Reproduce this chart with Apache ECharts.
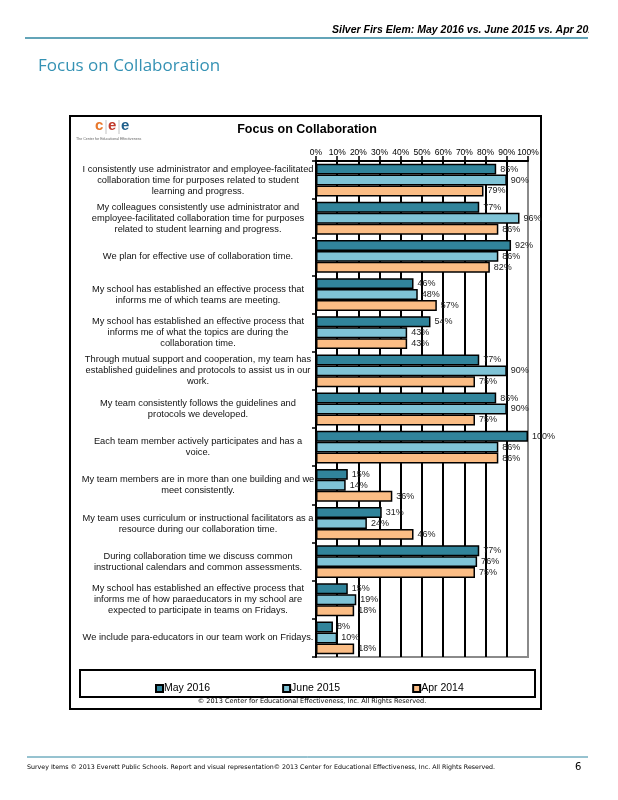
<!DOCTYPE html>
<html>
<head>
<meta charset="utf-8">
<script src="https://cdn.jsdelivr.net/npm/echarts@6/dist/echarts.min.js"></script>
<style>
html,body{margin:0;padding:0;background:#fff;}
#c{width:618px;height:800px;}
</style>
</head>
<body>
<div id="c"></div>
<script>
const categories = [
  "I consistently use administrator and employee-facilitated\ncollaboration time for purposes related to student\nlearning and progress.",
  "My colleagues consistently use administrator and\nemployee-facilitated collaboration time for purposes\nrelated to student learning and progress.",
  "We plan for effective use of collaboration time.",
  "My school has established an effective process that\ninforms me of which teams are meeting.",
  "My school has established an effective process that\ninforms me of what the topics are during the\ncollaboration time.",
  "Through mutual support and cooperation, my team has\nestablished guidelines and protocols to assist us in our\nwork.",
  "My team consistently follows the guidelines and\nprotocols we developed.",
  "Each team member actively participates and has a\nvoice.",
  "My team members are in more than one building and we\nmeet consistently.",
  "My team uses curriculum or instructional facilitators as a\nresource during our collaboration time.",
  "During collaboration time we discuss common\ninstructional calendars and common assessments.",
  "My school has established an effective process that\ninforms me of how paraeducators in my school are\nexpected to participate in teams on Fridays.",
  "We include para-educators in our team work on Fridays."
];
const seriesNames = ["May 2016", "June 2015", "Apr 2014"];
const may2016  = [85, 77, 92, 46, 54, 77, 85, 100, 15, 31, 77, 15, 8];
const june2015 = [90, 96, 86, 48, 43, 90, 90, 86, 14, 24, 76, 19, 10];
const apr2014  = [79, 86, 82, 57, 43, 75, 75, 86, 36, 46, 75, 18, 18];
const xTicks = [0, 100, 10];

const colors = ["#31849b", "#7fc3d6", "#fbbd85"];
const chart = echarts.init(document.getElementById('c'), null, {renderer: 'canvas'});

function mkSeries(name, data, color) {
  return {
    name: name, type: 'bar', data: data,
    barGap: '0%', barCategoryGap: '14%',
    itemStyle: {color: color, borderColor: '#000', borderWidth: 1.5},
    label: {show: true, position: 'right', distance: 4, formatter: '{c}%',
      fontFamily: 'Liberation Sans, Arial', fontSize: 9, color: '#222'}
  };
}

const splitColors = [];
for (let i = 0; i < 10; i++) splitColors.push('#000');
splitColors.push('#8a8a8a');

chart.setOption({
  backgroundColor: '#fff',
  animation: false,
  grid: {left: 316, top: 161, width: 212, height: 496, show: true,
    borderColor: '#8a8a8a', borderWidth: 2, backgroundColor: 'transparent'},
  xAxis: {
    type: 'value', position: 'top', min: xTicks[0], max: xTicks[1], interval: xTicks[2],
    axisLine: {show: true, lineStyle: {color: '#000', width: 2}},
    axisTick: {show: true, length: 5, lineStyle: {color: '#000', width: 1.5}},
    axisLabel: {formatter: '{value}%', fontFamily: 'Liberation Sans, Arial', fontSize: 8.5, color: '#000', margin: 4},
    splitLine: {show: true, lineStyle: {color: splitColors, width: 2}}
  },
  yAxis: {
    type: 'category', inverse: true, data: categories,
    axisLine: {show: true, lineStyle: {color: '#000', width: 2}},
    axisTick: {show: true, length: 4, lineStyle: {color: '#000', width: 1.5}},
    axisLabel: {
      margin: 3, align: 'right',
      formatter: function (v) { return v.split('\n').map(l => '{a|' + l + '}').join('\n'); },
      rich: {a: {width: 230, align: 'center', fontFamily: 'Liberation Sans, Arial', fontSize: 9.3, lineHeight: 11, color: '#111'}}
    }
  },
  legend: {
    data: seriesNames, left: 150, top: 678, icon: 'rect', itemWidth: 7, itemHeight: 7, itemGap: 72,
    textStyle: {fontFamily: 'Liberation Sans, Arial', fontSize: 10.5, color: '#000', padding: [0, 0, 0, -4]}
  },
  series: [
    mkSeries(seriesNames[0], may2016, colors[0]),
    mkSeries(seriesNames[1], june2015, colors[1]),
    mkSeries(seriesNames[2], apr2014, colors[2])
  ],
  graphic: [
    {type: 'text', left: 332, top: 25, z: 1, style: {text: 'Silver Firs Elem: May 2016 vs. June 2015 vs. Apr 2014',
      font: 'italic bold 10.5px "Liberation Sans", Arial', fill: '#000'}},
    {type: 'rect', shape: {x: 589, y: 18, width: 29, height: 18}, z: 5, style: {fill: '#fff'}},
    {type: 'line', shape: {x1: 25, y1: 38, x2: 588, y2: 38}, style: {stroke: '#2f86a1', lineWidth: 1.5}},
    {type: 'text', left: 38, top: 58, style: {text: 'Focus on Collaboration', font: '17px "Open Sans"', fill: '#3592b4'}},
    {type: 'rect', shape: {x: 70, y: 116, width: 471, height: 593}, style: {fill: 'none', stroke: '#000', lineWidth: 2}},
    {type: 'text', left: 95, top: 118, style: {text: 'c', font: 'bold 15px "Liberation Sans", Arial', fill: '#e8782c'}},
    {type: 'text', left: 108, top: 118, style: {text: 'e', font: 'bold 15px "Liberation Sans", Arial', fill: '#c0392b'}},
    {type: 'text', left: 121, top: 118, style: {text: 'e', font: 'bold 15px "Liberation Sans", Arial', fill: '#1f5f8b'}},
    {type: 'line', shape: {x1: 106, y1: 120, x2: 106, y2: 134}, style: {stroke: '#aaa', lineWidth: 0.7}},
    {type: 'line', shape: {x1: 119, y1: 120, x2: 119, y2: 134}, style: {stroke: '#aaa', lineWidth: 0.7}},
    {type: 'text', left: 76, top: 137, style: {text: 'The Center for Educational Effectiveness', font: '3.6px "Liberation Sans", Arial', fill: '#666'}},
    {type: 'text', x: 307, y: 130, style: {text: 'Focus on Collaboration', font: 'bold 12.5px "Liberation Sans", Arial', fill: '#000', textAlign: 'center', textVerticalAlign: 'middle'}},
    {type: 'rect', shape: {x: 80, y: 670, width: 455, height: 27}, style: {fill: 'none', stroke: '#000', lineWidth: 2}},
    {type: 'text', x: 312, y: 701, style: {text: '© 2013 Center for Educational Effectiveness, Inc. All Rights Reserved.', font: '6.5px "DejaVu Sans"', fill: '#000', textAlign: 'center', textVerticalAlign: 'middle'}},
    {type: 'line', shape: {x1: 27, y1: 757, x2: 588, y2: 757}, style: {stroke: '#2f86a1', lineWidth: 1}},
    {type: 'text', left: 27, top: 764, style: {text: 'Survey Items © 2013 Everett Public Schools. Report and visual representation© 2013 Center for Educational Effectiveness, Inc. All Rights Reserved.', font: '6.3px "DejaVu Sans"', fill: '#000'}},
    {type: 'text', left: 575, top: 762, style: {text: '6', font: '10px "DejaVu Sans"', fill: '#000'}}
  ]
});
</script>
</body>
</html>
